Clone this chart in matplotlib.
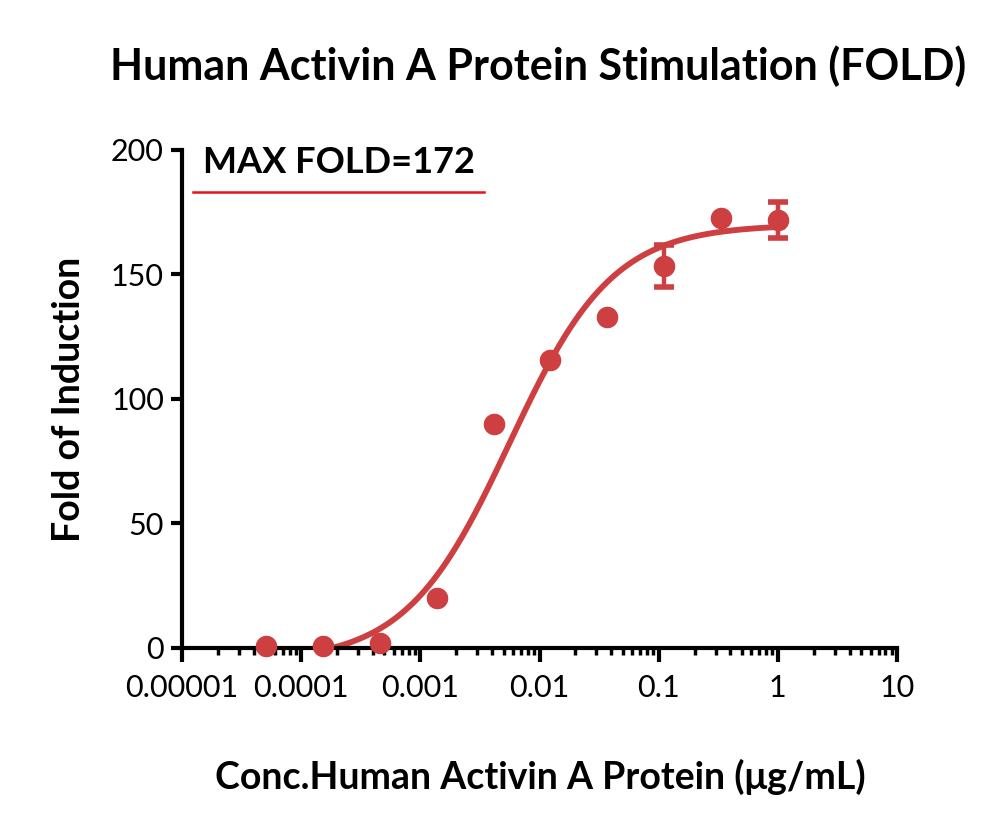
import matplotlib
matplotlib.use("Agg")
import matplotlib.pyplot as plt
import numpy as np
from matplotlib.ticker import LogLocator, FixedLocator, FixedFormatter, NullFormatter

# 3-fold dilution series, ug/mL
conc = [0.0000508, 0.000152, 0.000457, 0.00137, 0.00412, 0.0123, 0.037, 0.111, 0.333, 1.0]
fold = [1.0, 1.0, 2.0, 20.0, 90.0, 115.5, 133.0, 153.4, 172.5, 171.9]
fold_err = [0, 0, 0, 0, 0, 0, 0, 8.4, 0, 7.2]

# 4PL fit
fit_bottom = -5.5
fit_top = 170.0
fit_ec50 = 0.0056
fit_hill = 1.0

x_ticks = [1e-5, 1e-4, 1e-3, 1e-2, 1e-1, 1, 10]
x_tick_labels = ["0.00001", "0.0001", "0.001", "0.01", "0.1", "1", "10"]
y_ticks = [0, 50, 100, 150, 200]

RED = "#cd3f40"
LINE_RED = "#e3141b"

plt.rcParams["font.family"] = ["Lato", "DejaVu Sans"]

fig = plt.figure(figsize=(10, 8.33), dpi=100)
ax = fig.add_axes([0.182, 0.2221, 0.715, 0.598])

xs = np.logspace(-4, np.log10(1.08), 400)
ys = fit_bottom + (fit_top - fit_bottom) / (1 + (fit_ec50 / xs) ** fit_hill)
ax.plot(xs, ys, color=RED, linewidth=4.2, zorder=2)

ax.plot(conc, fold, "o", color=RED, markersize=14.5, zorder=3, clip_on=False)

c = np.array(conc)
f = np.array(fold)
e = np.array(fold_err)
m = e > 0
ax.errorbar(c[m], f[m], yerr=e[m], fmt="none", ecolor=RED, elinewidth=3.2,
            capsize=7.5, capthick=4, zorder=3)

ax.set_xscale("log")
ax.set_xlim(1e-5, 10)
ax.set_ylim(0, 200)

ax.xaxis.set_major_locator(FixedLocator(x_ticks))
ax.xaxis.set_major_formatter(FixedFormatter(x_tick_labels))
ax.xaxis.set_minor_locator(LogLocator(base=10, subs=np.arange(2, 10)))
ax.xaxis.set_minor_formatter(NullFormatter())
ax.set_yticks(y_ticks)

for side in ["top", "right"]:
    ax.spines[side].set_visible(False)
for side in ["left", "bottom"]:
    ax.spines[side].set_linewidth(3)

ax.tick_params(axis="x", which="major", direction="out", length=10, width=3,
               labelsize=22, pad=9)
ax.tick_params(axis="x", which="minor", direction="out", length=5, width=2.5)
ax.tick_params(axis="y", which="major", direction="out", length=8, width=3,
               labelsize=22, pad=5)

ax.set_ylabel("Fold of Induction", fontsize=27, fontweight="bold", labelpad=18)
fig.text(0.54, 0.067, "Conc.Human Activin A Protein (\u03bcg/mL)", fontsize=27,
         fontweight="bold", ha="center", va="center")
fig.text(0.538, 0.921, "Human Activin A Protein Stimulation (FOLD)", fontsize=31,
         fontweight="bold", ha="center", va="center")

ax.text(0.029, 0.975, "MAX FOLD=172", transform=ax.transAxes, fontsize=26,
        fontweight="bold", ha="left", va="center")
fig.add_artist(plt.Line2D([0.193, 0.484], [1 - 192 / 833, 1 - 192 / 833],
                          color=LINE_RED, linewidth=1.8))

fig.savefig("out.png", dpi=100)
